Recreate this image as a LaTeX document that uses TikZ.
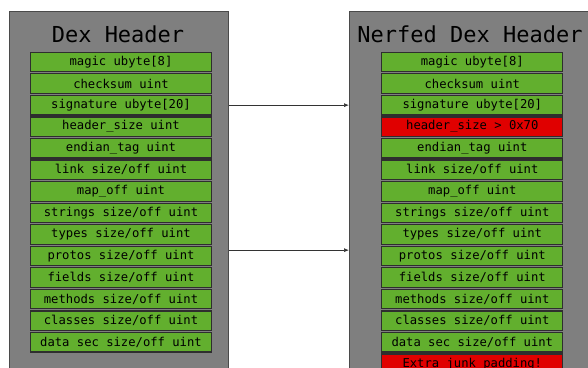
\documentclass[tikz,border=0pt]{standalone}
\usepackage{fontspec}
\newfontfamily\mono{DejaVu Sans Mono}
\usetikzlibrary{arrows.meta,calc}
\definecolor{panelgray}{HTML}{7F7F7F}
\definecolor{paneledge}{HTML}{4A4A4A}
\definecolor{fieldgreen}{HTML}{62AF2E}
\definecolor{fieldred}{HTML}{E00000}
\definecolor{fieldedge}{HTML}{2E2E2E}
\tikzset{
  panel/.style={draw=paneledge, line width=1.2pt, fill=panelgray, anchor=north west, inner sep=0pt},
  field/.style={draw=fieldedge, line width=1.2pt, fill=fieldgreen, minimum width=181pt, minimum height=19.5pt, inner sep=0pt, font=\mono\fontsize{12.2}{13}\selectfont},
  badfield/.style={field, fill=fieldred},
  title/.style={font=\mono\fontsize{22}{24}\selectfont, inner sep=0pt},
  link/.style={draw=black!80, line width=0.7pt, -{Latex[length=5pt,width=4pt]}}
}
\begin{document}
\begin{tikzpicture}[x=1pt,y=-1pt]
\useasboundingbox (0,0) rectangle (588,367);
\clip (0,0) rectangle (588,367);
\node[panel, minimum width=219pt, minimum height=400pt] (L) at (9,11) {};
\node[panel, minimum width=260pt, minimum height=400pt] (R) at (349,11) {};
\node[title] (LT) at (118,34) {Dex Header};
\node[title] (RT) at (470,34) {Nerfed Dex Header};
\foreach [count=\i] \t in {magic ubyte[8],checksum uint,signature ubyte[20],header\_size uint,endian\_tag uint,link size/off uint,map\_off uint,strings size/off uint,types size/off uint,protos size/off uint,fields size/off uint,methods size/off uint,classes size/off uint,data sec size/off uint}{
  \node[field] (l\i) at (121, 52.3+9.75+21.55*\i-21.55) {\t};
}
\foreach [count=\i] \t in {magic ubyte[8],checksum uint,signature ubyte[20],header\_size > 0x70,endian\_tag uint,link size/off uint,map\_off uint,strings size/off uint,types size/off uint,protos size/off uint,fields size/off uint,methods size/off uint,classes size/off uint,data sec size/off uint,Extra junk padding!}{
  \ifnum\i=4 \def\st{badfield}\else\ifnum\i=15 \def\st{badfield}\else\def\st{field}\fi\fi
  \node[\st] (r\i) at (472.3, 52.3+9.75+21.55*\i-21.55) {\t};
}
\draw[link] (L.east |- l3.center) -- (R.west |- l3.center);
\draw[link] ($(L.east |- l10.north)+(0,4.5)$) -- ($(R.west |- r10.north)+(0,4.5)$);
\end{tikzpicture}
\end{document}
